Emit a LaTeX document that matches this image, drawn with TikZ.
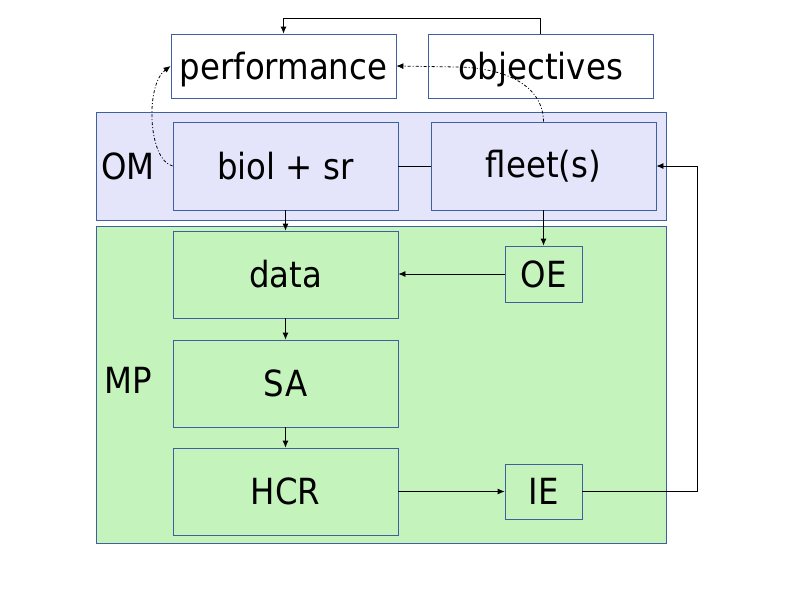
\documentclass[tikz,border=0pt]{standalone}
\usepackage{fontspec}
\setmainfont{DejaVu Sans Condensed}
\usetikzlibrary{arrows.meta}
\definecolor{OMLavender}{RGB}{228,228,250}
\definecolor{MPGreen}{RGB}{196,244,188}
\definecolor{EdgeBlue}{RGB}{62,96,158}

\begin{document}
\begin{tikzpicture}[x=1pt,y=-1pt,
    font=\fontsize{36}{40}\selectfont,
    box/.style={draw=EdgeBlue,line width=.8pt,inner sep=0pt,
      minimum width=225pt,minimum height=87pt},
    smallbox/.style={box,minimum width=77pt,minimum height=56pt},
    topbox/.style={box,fill=white,minimum height=64pt,text depth=0pt},
    region/.style={draw=EdgeBlue,line width=.8pt,inner sep=0pt,minimum width=570pt},
    arr/.style={-{Latex[length=7pt,width=6pt]},line width=.8pt},
    dashdot/.style={arr,dash pattern=on 3pt off 2pt on 1pt off 2pt}]
  \useasboundingbox[fill=white] (0,0) rectangle (800,600);
  \node[region,fill=OMLavender,minimum height=108pt] (om) at (381,166) {};
  \node[region,fill=MPGreen,minimum height=317pt] (mp) at (381,384.5) {};
  \node[anchor=west,inner sep=0pt] (omlabel) at (101,166) {OM};
  \node[anchor=west,inner sep=0pt] (mplabel) at (104,380) {MP};

  \node[topbox] (perf) at (283.5,66) {performance};
  \node[topbox] (obj) at (540.5,66) {objectives};
  \node[box,minimum height=88pt] (biol) at (285.5,166) {biol + sr};
  \node[box,minimum height=88pt] (fleet) at (543.5,166) {fleet(s)};
  \node[box] (data) at (285.5,274.5) {data};
  \node[box] (sa) at (285.5,383.5) {SA};
  \node[box] (hcr) at (285.5,491.5) {HCR};
  \node[smallbox] (oe) at (543.5,274) {OE};
  \node[smallbox,minimum height=55pt] (ie) at (543.5,491.5) {IE};

  \draw[arr] (obj.north) -- ++(0,-15) -| (perf.north);
  \draw[line width=.8pt] (biol) -- (fleet);
  \draw[arr] (biol) -- (data);
  \draw[arr] (data) -- (sa);
  \draw[arr] (sa) -- (hcr);
  \draw[arr] (fleet.south) -- (oe.north);
  \draw[arr] (oe.west) -- (oe.west -| data.east);
  \draw[arr] (hcr.east) -- (hcr.east -| ie.west);
  \draw[arr] (ie.east) -- ++(115,0) |- (fleet.east);
  \draw[dashdot] (biol.west) .. controls (148,160) and (145,85) .. (perf.west);
  \draw[dashdot] (fleet.north) .. controls (543,85) and (505,68) .. (458,67) -- (perf.east);
\end{tikzpicture}
\end{document}
